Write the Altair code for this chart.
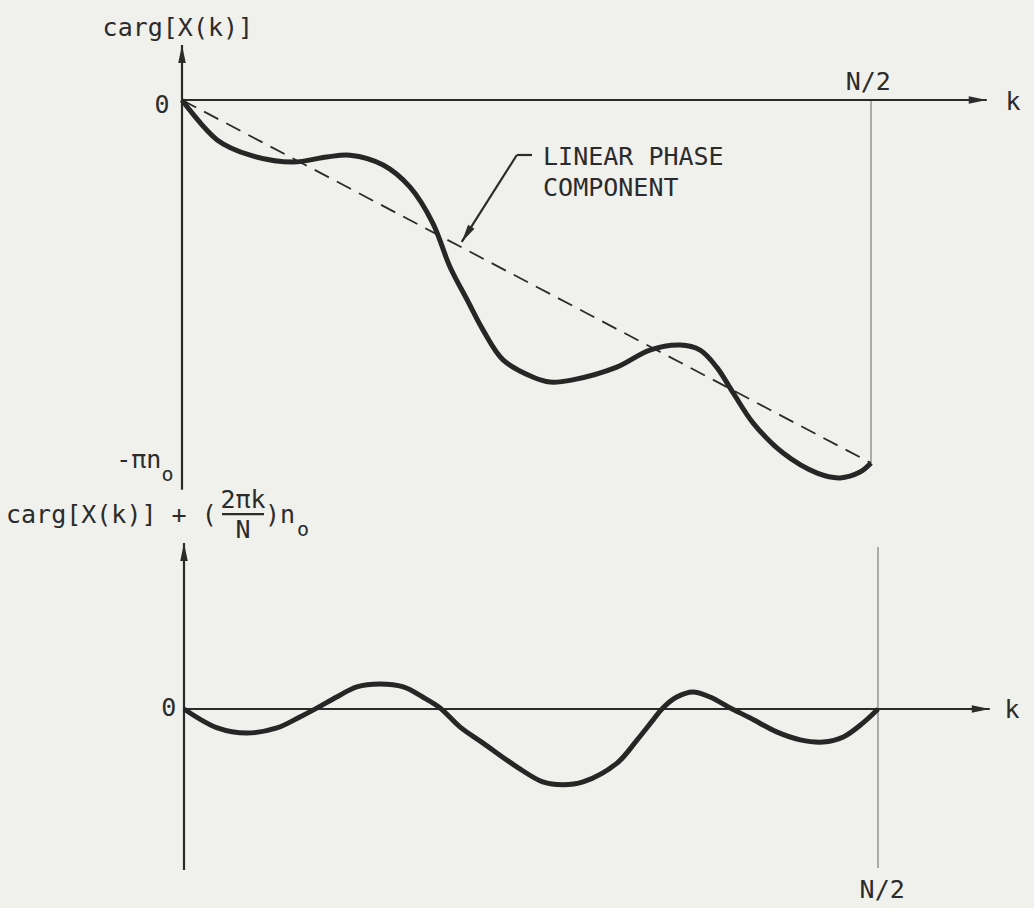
import altair as alt
import pandas as pd

# k is measured in units of N/2, phase in units of pi*n0
top_k = [0.0, 0.051, 0.099, 0.161, 0.210, 0.244, 0.292, 0.331, 0.364, 0.389, 0.414,
         0.437, 0.466, 0.509, 0.534, 0.567, 0.631, 0.679, 0.723, 0.752, 0.776, 0.800,
         0.829, 0.872, 0.922, 0.955, 0.984, 1.0]
top_phase = [0.0, -0.110, -0.152, -0.171, -0.157, -0.152, -0.179, -0.240, -0.339, -0.460,
             -0.551, -0.634, -0.716, -0.763, -0.777, -0.771, -0.736, -0.689, -0.675,
             -0.689, -0.736, -0.807, -0.890, -0.972, -1.028, -1.041, -1.025, -1.0]

# phase with the linear component removed
bot_k = [0.0, 0.048, 0.091, 0.134, 0.167, 0.192, 0.220, 0.249, 0.282, 0.316, 0.344,
         0.369, 0.398, 0.431, 0.480, 0.517, 0.546, 0.575, 0.624, 0.653, 0.676, 0.690,
         0.710, 0.733, 0.758, 0.787, 0.816, 0.854, 0.888, 0.921, 0.950, 0.978, 1.0]
bot_phase = [0.0, -0.052, -0.066, -0.052, -0.022, 0.003, 0.033, 0.061, 0.069, 0.061,
             0.033, 0.003, -0.050, -0.094, -0.160, -0.201, -0.209, -0.201, -0.149,
             -0.085, -0.030, 0.003, 0.033, 0.047, 0.033, 0.003, -0.025, -0.063, -0.085,
             -0.091, -0.077, -0.039, 0.0]

linear_k = [0.0, 1.0]
linear_phase = [0.0, -1.0]

FONT = "DejaVu Sans Mono"
INK = "#2b2b2b"
BG = "#f0f0ec"


def sx(r):
    return alt.Scale(domain=[0, 1], range=r, nice=False, zero=False)


def sy(r):
    return alt.Scale(domain=[-1, 0], range=r, nice=False, zero=False)


def panel(xsc, ysc, curve, axes, guides, dashed, heads, texts):
    X = lambda f: alt.X(f, type="quantitative", scale=xsc, axis=None)
    Y = lambda f: alt.Y(f, type="quantitative", scale=ysc, axis=None)
    layers = []

    def rules(df, **kw):
        return alt.Chart(df).mark_rule(**kw).encode(
            x=X("x"), y=Y("y"), x2="x2", y2="y2")

    if guides is not None:
        layers.append(rules(guides, color="#9a9a9a", strokeWidth=1.6))
    if dashed is not None:
        layers.append(alt.Chart(dashed).mark_line(
            color=INK, strokeWidth=1.8, strokeDash=[16, 9]).encode(x=X("k"), y=Y("v")))
    layers.append(rules(axes, color=INK, strokeWidth=2.2))
    layers.append(alt.Chart(curve).mark_line(
        color="#262626", strokeWidth=5, interpolate="catmull-rom").encode(
        x=X("k"), y=Y("v"), order="k:Q"))
    layers.append(alt.Chart(heads).mark_point(
        shape="M0,0L-2,-0.42L-2,0.42Z", filled=True, color=INK, opacity=1,
        size=324, strokeWidth=0).encode(
        x=X("x"), y=Y("y"), angle=alt.Angle("ang:Q", scale=None)))
    for (align, size), grp in texts.groupby(["align", "size"]):
        layers.append(alt.Chart(grp).mark_text(
            font=FONT, fontSize=float(size), align=align, baseline="middle",
            color=INK).encode(x=X("x"), y=Y("y"), text="t:N"))
    return alt.layer(*layers)


# ---------- upper panel: carg[X(k)] ----------
top_x = sx([182, 871])
top_y = sy([463, 100])

top_curve = pd.DataFrame({"k": top_k, "v": top_phase})
top_lin = pd.DataFrame({"k": linear_k, "v": linear_phase})
top_axes = pd.DataFrame({
    "x": [0.0, 0.0, 0.486, 0.508],
    "y": [-1.074, 0.0, -0.1515, -0.1515],
    "x2": [0.0, 1.168, 0.406, 0.486],
    "y2": [0.1515, 0.0, -0.391, -0.1515],
})
top_guides = pd.DataFrame({"x": [1.0], "y": [0.0], "x2": [1.0], "y2": [-1.0]})
top_heads = pd.DataFrame({
    "x": [0.0, 1.168, 0.406],
    "y": [0.1515, 0.0, -0.391],
    "ang": [270, 0, 122],
})
top_text = pd.DataFrame([
    ("carg[X(k)]", -0.006, 0.198, "center", 25),
    ("0", -0.029, -0.014, "center", 25),
    ("N/2", 0.996, 0.050, "center", 25),
    ("k", 1.206, -0.006, "center", 25),
    ("LINEAR PHASE", 0.524, -0.157, "left", 25),
    ("COMPONENT", 0.524, -0.242, "left", 25),
    ("-πn", -0.030, -0.992, "right", 25),
    ("o", -0.021, -1.033, "center", 20),
], columns=["t", "x", "y", "align", "size"])

upper = panel(top_x, top_y, top_curve, top_axes, top_guides, top_lin, top_heads, top_text)

# ---------- lower panel: carg[X(k)] + (2πk/N) n0 ----------
bot_x = sx([184, 878])
bot_y = sy([1072, 709])

bot_curve = pd.DataFrame({"k": bot_k, "v": bot_phase})
bot_axes = pd.DataFrame({
    "x": [0.0, 0.0, 0.0548],
    "y": [-0.4435, 0.0, 0.537],
    "x2": [0.0, 1.161, 0.1153],
    "y2": [0.457, 0.0, 0.537],
})
bot_guides = pd.DataFrame({"x": [1.0], "y": [0.446], "x2": [1.0], "y2": [-0.438]})
bot_heads = pd.DataFrame({
    "x": [0.0, 1.161],
    "y": [0.457, 0.0],
    "ang": [270, 0],
})
bot_text = pd.DataFrame([
    ("carg[X(k)] + (", -0.2565, 0.534, "left", 25),
    ("2πk", 0.085, 0.576, "center", 25),
    ("N", 0.085, 0.493, "center", 25),
    (")n", 0.1167, 0.534, "left", 25),
    ("o", 0.1715, 0.493, "center", 20),
    ("0", -0.022, 0.003, "center", 25),
    ("k", 1.193, -0.003, "center", 25),
    ("N/2", 1.006, -0.499, "center", 25),
], columns=["t", "x", "y", "align", "size"])

lower = panel(bot_x, bot_y, bot_curve, bot_axes, bot_guides, None, bot_heads, bot_text)

chart = alt.layer(upper, lower).resolve_scale(
    x="independent", y="independent"
).properties(
    width=1034, height=908, padding=0, autosize="none", background=BG
).configure_view(stroke=None)

chart.save("out.html", embed_options={"renderer": "svg", "actions": False})
